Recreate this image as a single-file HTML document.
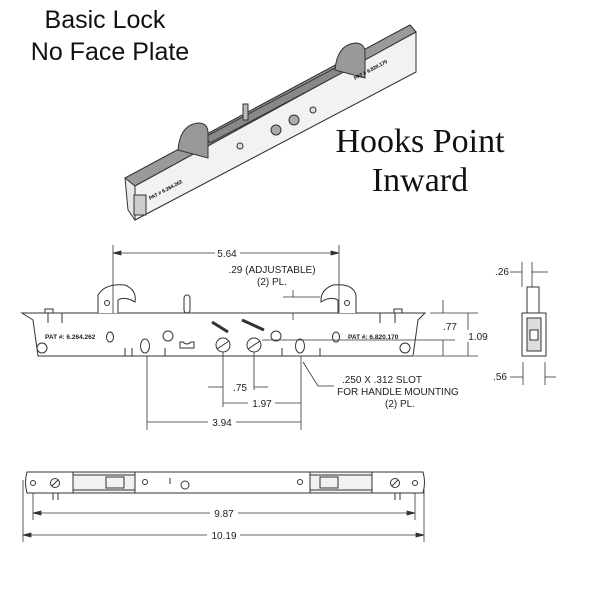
<!DOCTYPE html>
<html><head><meta charset="utf-8"><style>
body{margin:0;background:#fff}
svg{display:block}
.s{font-family:"Liberation Sans",sans-serif}
</style></head><body>
<svg width="600" height="600" viewBox="0 0 600 600" xmlns="http://www.w3.org/2000/svg">
<!-- Titles -->
<text class="s" x="105" y="28" font-size="25" text-anchor="middle" fill="#111">Basic Lock</text>
<text class="s" x="110" y="60" font-size="25" text-anchor="middle" fill="#111">No Face Plate</text>
<text x="420" y="152" font-family="Liberation Serif,serif" font-size="34" text-anchor="middle" fill="#111">Hooks Point</text>
<text x="420" y="191" font-family="Liberation Serif,serif" font-size="34" text-anchor="middle" fill="#111">Inward</text>

<!-- Isometric lock -->
<g stroke="#333" stroke-width="1" fill="#e8e8e8">
<polygon points="125,178 410,25 416,32 416,72 135,220 128,210"/>
<polygon points="125,178 410,25 416,32 135,186" fill="#9a9a9a"/>
<polygon points="135,186 416,32 416,72 135,220" fill="#f2f2f2"/>
<polygon points="205,137 350,60 355,66 210,143" fill="#888"/>
<path d="M178,150 q2,-25 20,-27 q10,0 10,10 l0,25 z" fill="#999"/>
<path d="M335,70 q2,-25 20,-27 q10,0 10,10 l0,25 z" fill="#999"/>
<rect x="243" y="104" width="5" height="16" fill="#bbb"/>
<circle cx="276" cy="130" r="5" fill="#aaa"/>
<circle cx="294" cy="120" r="5" fill="#aaa"/>
<circle cx="240" cy="146" r="3" fill="#ddd"/>
<circle cx="313" cy="110" r="3" fill="#ddd"/>
<rect x="134" y="195" width="12" height="20" fill="#ccc"/>
</g>
<text class="s" x="150" y="200" font-size="5" font-weight="bold" transform="rotate(-28 150 200)">PAT # 6.264.262</text>
<text class="s" x="355" y="80" font-size="5" font-weight="bold" transform="rotate(-28 355 80)">PAT # 6.820.170</text>

<!-- Front view -->
<g stroke="#333" stroke-width="1" fill="none">
<path d="M22,313 L425,313 L418,320 L413,356 L38,356 L33,320 Z" fill="#fff"/>
<path d="M98,313 L98,295 Q105,283 125,285 Q137,290 135,302 Q125,296 118,300 L118,313" fill="#fff"/>
<path d="M338,313 L338,300 Q330,296 321,302 Q320,290 333,285 Q353,283 356,295 L356,313" fill="#fff"/>
<circle cx="107" cy="303" r="2.5"/><circle cx="347" cy="303" r="2.5"/>
<rect x="184" y="295" width="6" height="18" rx="3" fill="#fff"/>
<ellipse cx="110" cy="337" rx="3.5" ry="5"/><ellipse cx="336" cy="337" rx="3.5" ry="5"/>
<ellipse cx="145" cy="346" rx="4.5" ry="7"/><ellipse cx="300" cy="346" rx="4.5" ry="7"/>
<circle cx="42" cy="348" r="5"/><circle cx="405" cy="348" r="5"/>
<circle cx="168" cy="336" r="5"/><circle cx="276" cy="336" r="5"/>
<circle cx="223" cy="345" r="7"/><circle cx="254" cy="345" r="7"/>
<line x1="217" y1="349" x2="229" y2="341"/><line x1="248" y1="349" x2="260" y2="341"/>
<path d="M180,348 h14 v-6 h-3 q-4,4 -8,0 h-3 z"/>
<line x1="212" y1="322" x2="228" y2="332" stroke-width="3"/>
<line x1="242" y1="320" x2="264" y2="330" stroke-width="3"/>
<path d="M125,356 v-8 M165,356 v-8 M132,356 v-8 M282,356 v-8 M320,356 v-8 M48,313 v10 M62,313 v10 M380,313 v10 M395,313 v10"/>
<rect x="45" y="309" width="8" height="4"/><rect x="394" y="309" width="8" height="4"/>
</g>
<g class="s" font-size="6.5" font-weight="bold" fill="#222">
<text x="45" y="339">PAT #: 6.264.262</text>
<text x="348" y="339">PAT #: 6.820.170</text>
</g>

<!-- Dimensions -->
<g stroke="#333" stroke-width="0.8" fill="#333">
<line x1="113" y1="245" x2="113" y2="313"/><line x1="339" y1="245" x2="339" y2="313"/>
<line x1="113" y1="253" x2="215" y2="253"/><line x1="240" y1="253" x2="339" y2="253"/>
<path d="M113,253 l8,-2 v4z M339,253 l-8,-2 v4z"/>
<line x1="283" y1="297" x2="320" y2="297"/><line x1="283" y1="313" x2="300" y2="313"/>
<line x1="293" y1="290" x2="293" y2="297"/><line x1="293" y1="313" x2="293" y2="320"/>
<line x1="430" y1="313" x2="478" y2="313"/><line x1="414" y1="356" x2="478" y2="356"/>
<line x1="262" y1="340" x2="455" y2="340"/>
<line x1="443" y1="300" x2="443" y2="313"/><line x1="443" y1="340" x2="443" y2="356"/>
<line x1="468" y1="313" x2="468" y2="330"/><line x1="468" y1="342" x2="468" y2="356"/>
<line x1="223" y1="352" x2="223" y2="407"/><line x1="254" y1="352" x2="254" y2="390"/>
<line x1="147" y1="356" x2="147" y2="430"/><line x1="301" y1="356" x2="301" y2="430"/>
<line x1="208" y1="387" x2="223" y2="387"/><line x1="254" y1="387" x2="268" y2="387"/>
<line x1="223" y1="403" x2="248" y2="403"/><line x1="275" y1="403" x2="301" y2="403"/>
<line x1="147" y1="422" x2="208" y2="422"/><line x1="236" y1="422" x2="301" y2="422"/>
<line x1="303" y1="362" x2="318" y2="386"/><line x1="318" y1="386" x2="334" y2="386"/>
<!-- side -->
<line x1="522" y1="262" x2="522" y2="287"/><line x1="532" y1="262" x2="532" y2="287"/>
<line x1="510" y1="272" x2="522" y2="272"/><line x1="532" y1="272" x2="548" y2="272"/>
<line x1="523" y1="362" x2="523" y2="385"/><line x1="545" y1="362" x2="545" y2="385"/>
<line x1="510" y1="377" x2="523" y2="377"/><line x1="545" y1="377" x2="556" y2="377"/>
<!-- bottom dims -->
<line x1="33" y1="493" x2="33" y2="520"/><line x1="415" y1="493" x2="415" y2="520"/>
<line x1="23" y1="480" x2="23" y2="542"/><line x1="424" y1="480" x2="424" y2="542"/>
<line x1="33" y1="513" x2="210" y2="513"/><line x1="238" y1="513" x2="415" y2="513"/>
<line x1="23" y1="535" x2="207" y2="535"/><line x1="240" y1="535" x2="424" y2="535"/>
<path d="M33,513 l8,-2 v4z M415,513 l-8,-2 v4z M23,535 l8,-2 v4z M424,535 l-8,-2 v4z"/>
</g>
<g class="s" font-size="10" fill="#222" text-anchor="middle">
<text x="227" y="257">5.64</text>
<text x="272" y="273">.29 (ADJUSTABLE)</text>
<text x="272" y="285">(2) PL.</text>
<text x="450" y="330">.77</text>
<text x="478" y="340">1.09</text>
<text x="240" y="391">.75</text>
<text x="262" y="407">1.97</text>
<text x="222" y="426">3.94</text>
<text x="382" y="383">.250 X .312 SLOT</text>
<text x="398" y="395">FOR HANDLE MOUNTING</text>
<text x="400" y="407">(2) PL.</text>
<text x="502" y="275">.26</text>
<text x="500" y="380">.56</text>
<text x="224" y="517">9.87</text>
<text x="224" y="539">10.19</text>
</g>

<!-- side view -->
<g stroke="#333" stroke-width="1" fill="#fff">
<rect x="527" y="287" width="12" height="26"/>
<rect x="522" y="313" width="24" height="43"/>
<rect x="527" y="318" width="14" height="33" fill="#ddd"/>
<rect x="530" y="330" width="8" height="10"/>
</g>

<!-- bottom view -->
<g stroke="#333" stroke-width="1" fill="none">
<path d="M27,472 L423,472 Q426,482 423,493 L27,493 Q24,482 27,472 Z" fill="#fff"/>
<rect x="73" y="472" width="62" height="21" fill="#f2f2f2"/>
<rect x="310" y="472" width="62" height="21" fill="#f2f2f2"/>
<line x1="73" y1="475" x2="135" y2="475"/><line x1="73" y1="490" x2="135" y2="490"/>
<line x1="310" y1="475" x2="372" y2="475"/><line x1="310" y1="490" x2="372" y2="490"/>
<rect x="106" y="477" width="18" height="11"/><rect x="320" y="477" width="18" height="11"/>
<circle cx="33" cy="483" r="2.5"/><circle cx="415" cy="483" r="2.5"/>
<circle cx="55" cy="483" r="4.5"/><circle cx="395" cy="483" r="4.5"/>
<line x1="52" y1="486" x2="58" y2="480"/><line x1="392" y1="486" x2="398" y2="480"/>
<circle cx="145" cy="482" r="2.5"/><circle cx="300" cy="482" r="2.5"/>
<circle cx="185" cy="485" r="4"/>
<line x1="170" y1="478" x2="170" y2="484"/>
<line x1="53" y1="493" x2="53" y2="500"/><line x1="58" y1="493" x2="58" y2="500"/>
<line x1="395" y1="493" x2="395" y2="500"/><line x1="400" y1="493" x2="400" y2="500"/>
</g>
</svg>
</body></html>
